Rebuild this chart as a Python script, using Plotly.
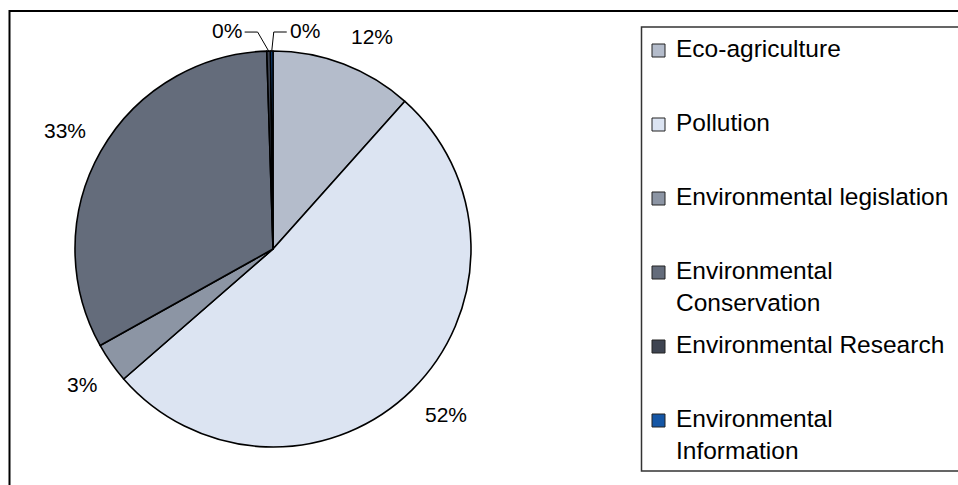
import math
import plotly.graph_objects as go

# ---------------- data ----------------
categories = ["Eco-agriculture", "Pollution", "Environmental legislation",
              "Environmental Conservation", "Environmental Research",
              "Environmental Information"]
legend_labels = ["Eco-agriculture", "Pollution", "Environmental legislation",
                 "Environmental<br>Conservation", "Environmental Research",
                 "Environmental<br>Information"]
values = [11.6, 52.0, 3.3, 32.6, 0.3, 0.2]
colors = ["#B4BCCB", "#DCE4F2", "#8C95A4", "#646C7B", "#3E4451", "#1556A5"]

# ---------------- layout constants (page pixels) ----------------
W, H = 958, 485
CX, CY, R = 273, 249, 198
FONT = "Arial, Liberation Sans, sans-serif"
LABEL_SIZE = 21
LEGEND_SIZE = 24.5
LABEL_GAP = 15
LEG_X_SW, LEG_SW = 652, 13
LEG_X_TXT = 674
LEG_Y0, LEG_PITCH = 50.5, 74


def px(x):
    return x / W


def py(y):
    return 1 - y / H


fig = go.Figure()
fig.add_trace(go.Pie(
    labels=categories, values=values, sort=False, direction="clockwise",
    rotation=0, textinfo="none", showlegend=False,
    hoverinfo="label+percent",
    marker=dict(colors=colors, line=dict(color="black", width=1.6)),
    domain=dict(x=[px(CX - R), px(CX + R)], y=[py(CY + R), py(CY - R)]),
))

annotations = []
shapes = []

total = sum(values)
cum = 0.0
small_idx = 0
for i, v in enumerate(values):
    frac = v / total
    mid = 2 * math.pi * (cum + frac / 2)
    cum += frac
    s, c = math.sin(mid), math.cos(mid)
    txt = f"{round(frac * 100)}%"
    if frac >= 0.01:
        rl = R + LABEL_GAP
        x, y = CX + rl * s, CY - rl * c
        annotations.append(dict(
            x=px(x), y=py(y), xref="paper", yref="paper", text=txt,
            showarrow=False, xanchor="left" if s >= 0 else "right",
            yanchor="bottom" if c >= 0 else "top",
            font=dict(family=FONT, size=LABEL_SIZE, color="black")))
    else:
        ex, ey = CX + R * s, CY - R * c
        ely = ey - 19
        if small_idx == 0:
            elx = ex - 11
            lx = elx - 13
            anchor = "right"
        else:
            elx = ex + 2
            lx = elx + 13
            anchor = "left"
        small_idx += 1
        shapes.append(dict(
            type="path", xref="paper", yref="paper",
            path=f"M {px(lx)},{py(ely)} L {px(elx)},{py(ely)} L {px(ex)},{py(ey)}",
            line=dict(color="black", width=1)))
        annotations.append(dict(
            x=px(lx + (-1 if anchor == "right" else 1)), y=py(ely - 2),
            xref="paper", yref="paper", text=txt, showarrow=False,
            xanchor=anchor, yanchor="middle",
            font=dict(family=FONT, size=LABEL_SIZE, color="black")))

# outer chart frame (only left and top edges are inside the picture)
shapes.append(dict(type="path", xref="paper", yref="paper",
                   path=f"M {px(9.5)},{py(520)} L {px(9.5)},{py(11)} L {px(1000)},{py(11)}",
                   line=dict(color="black", width=2)))
# legend box (right edge lies outside the picture)
shapes.append(dict(type="path", xref="paper", yref="paper",
                   path=(f"M {px(1000)},{py(27)} L {px(641.5)},{py(27)} "
                         f"L {px(641.5)},{py(471)} L {px(1000)},{py(471)}"),
                   line=dict(color="#333333", width=1.5)))

for i, (lab, col) in enumerate(zip(legend_labels, colors)):
    yc = LEG_Y0 + LEG_PITCH * i
    shapes.append(dict(type="rect", xref="paper", yref="paper",
                       x0=px(LEG_X_SW), x1=px(LEG_X_SW + LEG_SW),
                       y0=py(yc + LEG_SW / 2), y1=py(yc - LEG_SW / 2),
                       line=dict(color="#222222", width=1), fillcolor=col))
    annotations.append(dict(
        x=px(LEG_X_TXT), y=py(yc - 17.5), xref="paper", yref="paper",
        text=lab, showarrow=False, xanchor="left", yanchor="top", align="left",
        font=dict(family=FONT, size=LEGEND_SIZE, color="black")))

fig.update_layout(
    width=W, height=H, margin=dict(l=0, r=0, t=0, b=0),
    paper_bgcolor="white", plot_bgcolor="white",
    shapes=shapes, annotations=annotations, showlegend=False,
)
fig.write_html("out.html",
               config={"displayModeBar": False},
               post_script="document.body.style.margin='0';"
                           "document.body.style.overflow='hidden';")
